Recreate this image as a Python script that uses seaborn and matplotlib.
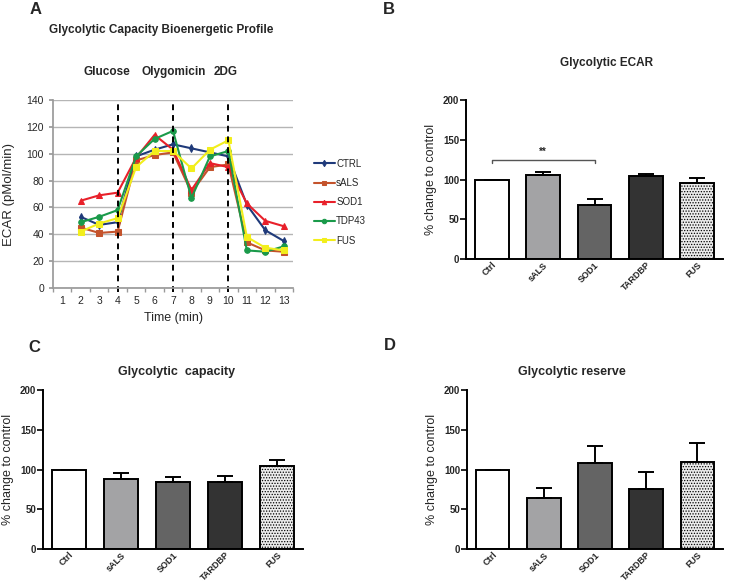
import numpy as np
import pandas as pd
import seaborn as sns
import matplotlib.pyplot as plt

sns.set_theme(style="white")
plt.rcParams['font.family'] = ['Liberation Sans', 'DejaVu Sans']
plt.rcParams['hatch.color'] = '#a0a0a0'
plt.rcParams['hatch.linewidth'] = 0.6

# Panel A data: ECAR over time
time_points = [2, 3, 4, 5, 6, 7, 8, 9, 10, 11, 12, 13]
ctrl = [53, 47, 49, 98, 103, 107, 104, 101, 98, 62, 43, 35]
sals = [45, 41, 42, 95, 99, 101, 71, 90, 92, 34, 28, 27]
sod1 = [65, 69, 71, 97, 114, 103, 73, 93, 90, 63, 50, 46]
tdp43 = [49, 53, 58, 98, 111, 117, 67, 98, 102, 28, 27, 31]
fus = [42, 48, 52, 90, 102, 102, 89, 103, 110, 38, 30, 28]
line_names = ['CTRL', 'sALS', 'SOD1', 'TDP43', 'FUS']
line_colors = ['#1f3a7a', '#c4532c', '#e8202a', '#1a9a4a', '#f2ee1c']
line_markers = ['d', 's', '^', 'o', 's']
injections = [4, 7, 10]
injection_names = ['Glucose', 'Olygomicin', '2DG']

# Bar panels data
groups = ['Ctrl', 'sALS', 'SOD1', 'TARDBP', 'FUS']
ecar_mean = [100, 106, 68, 105, 96]
ecar_err = [0, 3, 8, 2, 6]
capacity_mean = [100, 88, 84, 84, 105]
capacity_err = [0, 8, 7, 8, 7]
reserve_mean = [100, 64, 108, 76, 110]
reserve_err = [0, 13, 22, 21, 23]
bar_colors = ['#ffffff', '#a3a3a5', '#646464', '#333333', '#ececec']

W, H = 731, 585
fig = plt.figure(figsize=(W / 100, H / 100), dpi=100)


def rect(l, t, r, b):
    return [l / W, 1 - b / H, (r - l) / W, (b - t) / H]


# ---- Panel A ----
axA = fig.add_axes(rect(53, 100, 293, 288))
df_lines = pd.DataFrame({'Time': time_points * 5,
                         'ECAR': ctrl + sals + sod1 + tdp43 + fus,
                         'Group': np.repeat(line_names, len(time_points))})
for name, col, mk in zip(line_names, line_colors, line_markers):
    sub = df_lines[df_lines['Group'] == name]
    sns.lineplot(data=sub, x='Time', y='ECAR', color=col, marker=mk, markersize=4,
                 markeredgecolor=col, linewidth=1.5, ax=axA, label=name)
for x in injections:
    axA.axvline(x, ymin=-0.02, ymax=1, color='black', linestyle=(0, (3, 2.5)),
                linewidth=1.4, clip_on=False)
axA.set_xlim(0.5, 13.5)
axA.set_ylim(0, 140)
axA.set_yticks(range(0, 141, 20))
axA.set_xticks(range(1, 14))
axA.set_xticks(np.arange(0.5, 14, 1), minor=True)
axA.tick_params(axis='x', which='major', length=0, labelsize=7.5, pad=6)
axA.tick_params(axis='x', which='minor', length=3, color='#999999', bottom=True)
axA.tick_params(axis='y', labelsize=7.5, length=3, color='#999999', left=True)
axA.yaxis.grid(True, color='#b5b5b5', linewidth=1)
for s in ['top', 'right']:
    axA.spines[s].set_visible(False)
for s in ['left', 'bottom']:
    axA.spines[s].set_color('#9a9a9a')
axA.set_xlabel('Time (min)', fontsize=9, labelpad=4)
axA.set_ylabel('ECAR (pMol/min)', fontsize=9.5, labelpad=8)
axA.legend(loc='upper left', bbox_to_anchor=(305 / W, 1 - 150 / H),
           bbox_transform=fig.transFigure, frameon=False, fontsize=7,
           handlelength=2.2, handletextpad=0.1, labelspacing=0.95, markerscale=0.8)
for xp, name in zip([107, 174, 226], injection_names):
    fig.text(xp / W, 1 - 72 / H, name, ha='center', va='center', fontsize=8.5,
             fontweight='bold')
fig.text(161 / W, 1 - 30 / H, 'Glycolytic Capacity Bioenergetic Profile',
         ha='center', va='center', fontsize=8.5, fontweight='bold')


# ---- Bar panels ----
def bar_panel(ax, means, errs):
    df = pd.DataFrame({'Group': groups, 'Value': means})
    sns.barplot(data=df, x='Group', y='Value', hue='Group', palette=bar_colors,
                edgecolor='black', linewidth=1.4, width=0.66, legend=False, ax=ax)
    ax.patches[-1].set_hatch('......')
    ax.errorbar(range(len(groups)), means, yerr=[[0] * len(errs), errs], fmt='none',
                ecolor='black', elinewidth=1.4, capsize=6, capthick=1.4)
    ax.set_xlim(-0.5, 4.5)
    ax.set_ylim(0, 200)
    ax.set_yticks(range(0, 201, 50))
    for s in ['top', 'right']:
        ax.spines[s].set_visible(False)
    for s in ['left', 'bottom']:
        ax.spines[s].set_color('black')
        ax.spines[s].set_linewidth(1.4)
    ax.tick_params(axis='y', left=True, length=4, width=1.4, labelsize=7, pad=1)
    ax.tick_params(axis='x', length=0, labelsize=6.5, pad=1)
    for lbl in ax.get_yticklabels():
        lbl.set_fontweight('bold')
    for lbl in ax.get_xticklabels():
        lbl.set_fontweight('bold')
        lbl.set_rotation(45)
        lbl.set_ha('right')
        lbl.set_rotation_mode('anchor')
    ax.set_xlabel('')
    ax.set_ylabel('% change to control', fontsize=9, labelpad=4)


axB = fig.add_axes(rect(466, 100, 723, 259))
bar_panel(axB, ecar_mean, ecar_err)
axB.plot([0, 0, 2, 2], [121, 125, 125, 121], color='#555555', linewidth=1)
axB.text(1, 128, '**', ha='center', va='bottom', fontsize=7, fontweight='bold')

axC = fig.add_axes(rect(43, 390, 303, 549))
bar_panel(axC, capacity_mean, capacity_err)

axD = fig.add_axes(rect(467, 390, 723, 549))
bar_panel(axD, reserve_mean, reserve_err)

fig.text(607 / W, 1 - 63 / H, 'Glycolytic ECAR', ha='center', va='center',
         fontsize=8.5, fontweight='bold')
fig.text(177 / W, 1 - 372 / H, 'Glycolytic  capacity', ha='center', va='center',
         fontsize=9, fontweight='bold')
fig.text(572 / W, 1 - 372 / H, 'Glycolytic reserve', ha='center', va='center',
         fontsize=9, fontweight='bold')

for lx, ly, letter in [(36, 10, 'A'), (389, 10, 'B'), (34, 347, 'C'), (390, 346, 'D')]:
    fig.text(lx / W, 1 - ly / H, letter, ha='center', va='center', fontsize=12,
             fontweight='bold')

fig.savefig('out.png', dpi=100)
